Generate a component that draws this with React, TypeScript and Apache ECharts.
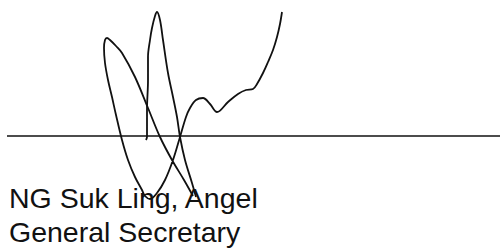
import React, { useEffect, useRef } from "react";
import * as echarts from "echarts";

// Signature strokes, in picture pixels (x to the right, y downwards)
const strokeMain: number[][] = [
  [282, 12], [280, 24], [277, 37], [273, 50], [268, 62], [263, 73], [257, 84], [253, 89],
  [246, 90], [238, 94], [228, 102], [217, 112], [210, 104], [203, 98], [196, 100], [190, 108],
  [186, 117], [180, 137], [173, 160], [165, 180], [157, 193], [150, 199], [145, 196],
  [142, 190], [135, 177], [128, 160], [122, 140], [116, 115], [112, 97], [108, 80], [105, 63],
  [104, 48], [105, 40], [107, 38], [110, 40], [116, 46], [122, 53], [135, 77], [148, 108],
  [160, 137], [172, 160], [184, 180], [193, 196],
];
const strokeMiddle: number[][] = [
  [146, 140], [147, 137], [147, 125], [147, 110], [148, 80], [148, 57], [150, 40], [152, 28],
  [155, 16], [157, 12], [160, 20], [163, 40], [168, 73], [173, 97], [177, 117], [180, 137],
  [185, 160], [192, 183], [196, 197],
];
const ruleLine: number[][] = [[7, 136], [500, 136]];
const nameLines: string[] = ["NG Suk Ling, Angel", "General Secretary"];

export default function App() {
  const ref = useRef<HTMLDivElement>(null);
  useEffect(() => {
    document.body.style.margin = "0";
    const chart = echarts.init(ref.current!, null, { renderer: "svg" });
    const lineStyleBase = { color: "#111", width: 1.8 };
    chart.setOption({
      animation: false,
      backgroundColor: "#fff",
      grid: { left: 0, right: 0, top: 0, bottom: 0 },
      xAxis: { type: "value", min: 0, max: 500, show: false },
      yAxis: { type: "value", min: 0, max: 249, inverse: true, show: false },
      series: [
        {
          type: "line", data: ruleLine, symbol: "none",
          lineStyle: { color: "#111", width: 1.6 },
        },
        {
          type: "line", data: strokeMain, symbol: "none", smooth: 0.35,
          lineStyle: lineStyleBase,
        },
        {
          type: "line", data: strokeMiddle, symbol: "none", smooth: 0.35,
          lineStyle: lineStyleBase,
        },
      ],
      graphic: nameLines.map((t, i) => ({
        type: "text",
        x: 9,
        y: 198 + i * 34,
        style: {
          text: t,
          fill: "#111",
          font: '28.5px "Liberation Sans", Arial, sans-serif',
          verticalAlign: "middle",
        },
      })),
    });
    return () => chart.dispose();
  }, []);
  return <div ref={ref} style={{ width: 500, height: 249 }} />;
}
